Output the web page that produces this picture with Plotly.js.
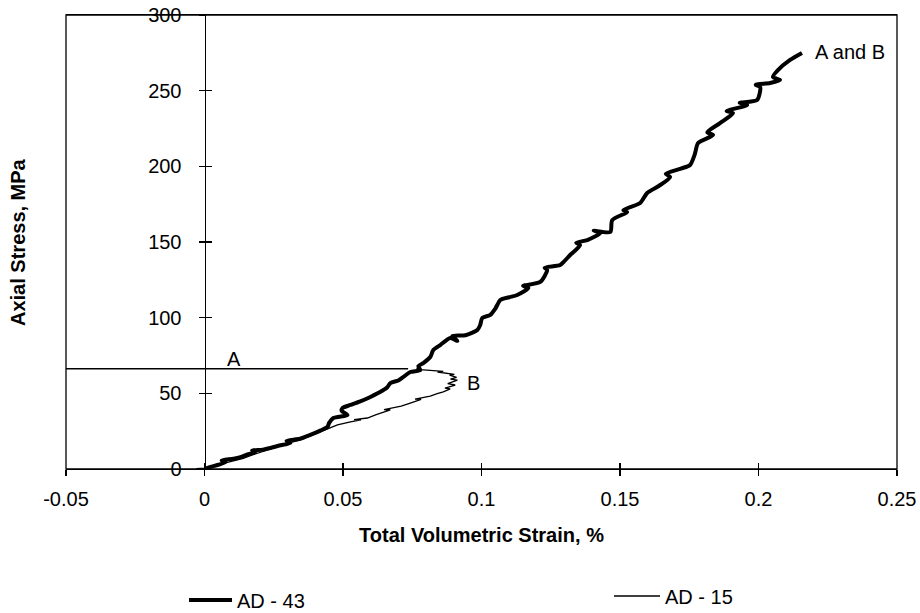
<!DOCTYPE html>
<html>
<head>
<meta charset="utf-8">
<script src="https://cdn.plot.ly/plotly-3.0.1.min.js"></script>
<style>html,body{margin:0;padding:0;background:#fff;}#chart{width:920px;height:613px;}</style>
</head>
<body>
<div id="chart"></div>
<script>
// Tick labels
const xTickVals = [-0.05, 0, 0.05, 0.1, 0.15, 0.2, 0.25];
const xTickText = ['-0.05', '0', '0.05', '0.1', '0.15', '0.2', '0.25'];
const yTickVals = [0, 50, 100, 150, 200, 250, 300];
const yTickText = ['0', '50', '100', '150', '200', '250', '300'];

// Series AD - 43 (thick line): total volumetric strain (%) vs axial stress (MPa)
const ad43Strain = [0, 0.0022, 0.0050, 0.0076, 0.0062, 0.0105, 0.0130, 0.0155, 0.0184, 0.0172, 0.0210, 0.0238,
  0.0270, 0.0310, 0.0296, 0.0345, 0.0382, 0.0420, 0.0444, 0.0450, 0.0465, 0.0516, 0.0495, 0.0498, 0.0527,
  0.0560, 0.0599, 0.0625, 0.0646, 0.0660, 0.0671, 0.0700, 0.0718, 0.0743, 0.0779, 0.0772, 0.0790, 0.0815,
  0.0826, 0.0851, 0.0887, 0.0913, 0.0895, 0.0942, 0.0985, 0.0995, 0.1003, 0.1032, 0.1050, 0.1068, 0.1100,
  0.1129, 0.1169, 0.1150, 0.1212, 0.1237, 0.1228, 0.1284, 0.1300, 0.1320, 0.1356, 0.1342, 0.1382, 0.1429,
  0.1405, 0.1465, 0.1472, 0.1526, 0.1512, 0.1573, 0.1598, 0.1640, 0.1681, 0.1665, 0.1720, 0.1753, 0.1770,
  0.1782, 0.1836, 0.1815, 0.1861, 0.1908, 0.1885, 0.1959, 0.1932, 0.1995, 0.2006, 0.1990, 0.2042, 0.2078,
  0.2052, 0.2071, 0.2114, 0.2157];
const ad43Stress = [0, 1.3, 2.8, 4.6, 5.6, 6.8, 7.9, 9.6, 11.2, 12.2, 12.8, 13.9,
  15.5, 17.2, 18.6, 20.0, 22.5, 25.5, 27.8, 30.5, 33.7, 35.7, 38.5, 40.3, 42.3,
  44.5, 47.6, 50.0, 52.2, 54.0, 56.8, 58.5, 60.8, 64.1, 65.4, 68.0, 70.0, 74.0,
  78.6, 81.9, 86.6, 84.6, 87.9, 88.4, 91.9, 95.0, 99.8, 101.8, 106.0, 111.7, 113.5,
  115.0, 119.6, 121.0, 123.6, 131.5, 133.0, 134.8, 137.5, 141.4, 148.0, 149.5, 151.3, 155.9,
  157.5, 156.6, 164.5, 169.8, 171.0, 175.8, 182.4, 187.0, 193.0, 195.0, 198.5, 200.9, 208.0,
  215.4, 220.7, 222.5, 228.6, 235.2, 236.5, 240.5, 242.0, 243.8, 252.4, 253.8, 255.1, 257.1,
  259.0, 263.7, 270.3, 274.9];

// Series AD - 15 (thin line)
const ad15Strain = [-0.0030, 0.0000, 0.0022, 0.0065, 0.0105, 0.0140, 0.0173, 0.0215, 0.0256, 0.0300, 0.0346,
  0.0390, 0.0429, 0.0460, 0.0480, 0.0527, 0.0565, 0.0540, 0.0588, 0.0620, 0.0671, 0.0648, 0.0710, 0.0743,
  0.0782, 0.0760, 0.0815, 0.0840, 0.0862, 0.0887, 0.0868, 0.0905, 0.0878, 0.0913, 0.0888, 0.0910, 0.0885,
  0.0902, 0.0870, 0.0841, 0.0862, 0.0800, 0.0779, 0.0765];
const ad15Stress = [0.3, 0.5, 1.5, 3.5, 5.0, 7.0, 9.3, 12.0, 14.5, 17.0, 19.2,
  22.5, 25.8, 27.8, 29.1, 31.1, 32.4, 32.6, 33.7, 36.0, 39.0, 39.2, 41.5, 43.6,
  46.0, 46.2, 48.2, 49.8, 50.9, 52.9, 53.4, 55.5, 56.4, 58.8, 59.4, 60.5, 62.1,
  62.6, 63.5, 64.1, 64.5, 65.0, 65.6, 66.5];

// Reference line "A"
const lineAStrain = [-0.05, 0.0735];
const lineAStress = [66.3, 66.3];

// Text labels
const labelText = ['A', 'B', 'A and B'];
const labelStrain = [0.0105, 0.097, 0.233];
const labelStress = [72.5, 56.8, 275.5];

const FONT = 'Arial, "Liberation Sans", sans-serif';
const FS = 20;

const traces = [
  {x: ad15Strain, y: ad15Stress, type: 'scatter', mode: 'lines', name: 'AD - 15',
   line: {color: '#000', width: 1.3}, legend: 'legend2'},
  {x: ad43Strain, y: ad43Stress, type: 'scatter', mode: 'lines', name: 'AD - 43',
   line: {color: '#000', width: 4, shape: 'spline', smoothing: 0.7}, legend: 'legend'},
  {x: lineAStrain, y: lineAStress, type: 'scatter', mode: 'lines', showlegend: false,
   xaxis: 'x2', yaxis: 'y2', line: {color: '#000', width: 1.5}, hoverinfo: 'skip'}
];

const yPos = (0 - (-0.05)) / 0.3;

const layout = {
  width: 920, height: 613,
  margin: {l: 66, r: 23, t: 15, b: 144, autoexpand: false},
  paper_bgcolor: '#fff', plot_bgcolor: '#fff',
  font: {family: FONT, color: '#000', size: FS},
  xaxis: {
    range: [-0.05, 0.25], tickvals: xTickVals, ticktext: xTickText,
    ticks: 'outside', ticklen: 6, tickwidth: 1.3, tickcolor: '#000',
    showgrid: false, zeroline: false, showline: true, linecolor: '#000', linewidth: 1.3, mirror: true,
    tickfont: {family: FONT, size: FS, color: '#000'}, ticklabelstandoff: 6,
    title: {text: 'Total Volumetric Strain, %', font: {family: FONT, size: FS, color: '#000', weight: 'bold'}, standoff: 18}
  },
  yaxis: {
    range: [0, 300], anchor: 'free', position: yPos, tickvals: yTickVals, ticktext: yTickText,
    ticks: 'outside', ticklen: 6, tickwidth: 1.3, tickcolor: '#000',
    showgrid: false, zeroline: false, showline: true, linecolor: '#000', linewidth: 1.3,
    tickfont: {family: FONT, size: FS, color: '#000'}, ticklabelstandoff: 13
  },
  xaxis2: {
    range: [-0.05, 0.25], overlaying: 'x', anchor: 'y2', side: 'bottom', tickvals: xTickVals,
    ticks: 'inside', ticklen: 6, tickwidth: 1.3, tickcolor: '#000', showticklabels: false,
    showgrid: false, zeroline: false, showline: false
  },
  yaxis2: {
    range: [0, 300], overlaying: 'y', anchor: 'free', position: yPos, tickvals: yTickVals,
    ticks: 'inside', ticklen: 6, tickwidth: 1.3, tickcolor: '#000', showticklabels: false,
    showgrid: false, zeroline: false, showline: false
  },
  shapes: [
    {type: 'rect', xref: 'paper', yref: 'paper', x0: 0, x1: 1, y0: 0, y1: 1,
     line: {color: '#000', width: 1.3}, fillcolor: 'rgba(0,0,0,0)'}
  ],
  annotations: labelText.map((t, i) => ({
    text: t, x: labelStrain[i], y: labelStress[i], xref: 'x', yref: 'y', showarrow: false,
    xanchor: 'center', yanchor: 'middle',
    font: {family: FONT, size: FS, color: '#000'}
  })).concat([{
    text: 'Axial Stress, MPa', xref: 'paper', yref: 'paper', x: (18 - 66) / 831, y: 0.5,
    xanchor: 'center', yanchor: 'middle',
    textangle: -90, showarrow: false, font: {family: FONT, size: FS, color: '#000', weight: 'bold'}
  }]),
  legend: {x: (184 - 66) / 831, y: (469 - 600) / 454, xanchor: 'left', yanchor: 'middle',
    orientation: 'h', itemwidth: 43, bgcolor: 'rgba(0,0,0,0)', font: {family: FONT, size: FS, color: '#000'}},
  legend2: {x: (609 - 66) / 831, y: (469 - 596) / 454, xanchor: 'left', yanchor: 'middle',
    orientation: 'h', itemwidth: 46, bgcolor: 'rgba(0,0,0,0)', font: {family: FONT, size: FS, color: '#000'}},
  showlegend: true
};

Plotly.newPlot('chart', traces, layout, {displayModeBar: false, staticPlot: true});
</script>
</body>
</html>
